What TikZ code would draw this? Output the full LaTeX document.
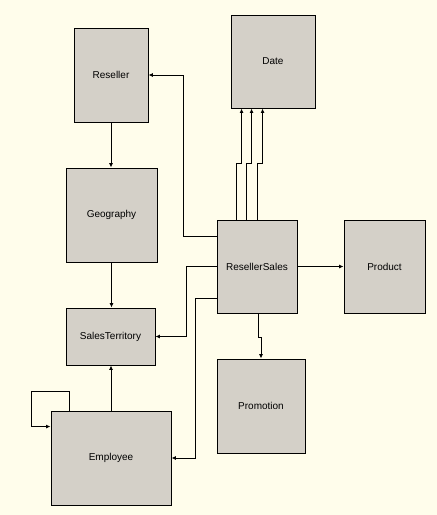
\documentclass[tikz,border=0pt]{standalone}
\usepackage{fontspec}
\setmainfont{Liberation Sans}
\usetikzlibrary{arrows.meta}
\definecolor{paper}{HTML}{FFFDEB}
\definecolor{boxgray}{HTML}{D4D0C8}
\tikzset{
	tbl/.style={draw=black, fill=boxgray, line width=0.9pt, inner sep=0pt, font=\fontsize{10}{12}\selectfont},
	fk/.style={draw=black, line width=0.9pt, -{Latex[length=4.5pt,width=4pt]}}
}
\begin{document}
\begin{tikzpicture}[x=1pt, y=-1pt]
		\fill[paper] (0,0) rectangle (437,515);
		\useasboundingbox (0,0) rectangle (437,515);
		\node[tbl, minimum width=74pt, minimum height=94pt] (reseller) at (111,75) {Reseller};
		\node[tbl, minimum width=84pt, minimum height=93pt] (date) at (273,61.5) {Date};
		\node[tbl, minimum width=91pt, minimum height=94pt] (geo) at (111.5,215) {Geography};
		\node[tbl, minimum width=80pt, minimum height=93pt] (rs) at (257,266.5) {ResellerSales};
		\node[tbl, minimum width=81pt, minimum height=93pt] (product) at (384.5,266.5) {Product};
		\node[tbl, minimum width=89pt, minimum height=57pt] (st) at (110.5,336.5) {SalesTerritory};
		\node[tbl, minimum width=88pt, minimum height=94pt] (promo) at (261,406) {Promotion};
		\node[tbl, minimum width=120pt, minimum height=94pt] (emp) at (111,458) {Employee};
		% lookups out of the fact table
		\draw[fk] ([yshift=-17pt]rs.north west) -| ([xshift=35pt]reseller.east) -- (reseller.east);
		\foreach \a/\b in {20/11, 30/21, 41/32}
			\draw[fk] ([xshift=\a pt]rs.north west) -- ++(0,-56) -| ([xshift=\b pt]date.south west);
		\draw[fk] (rs.east) -- (product.west);
		\draw[fk] (rs.west) -- ++(-30,0) |- (st.east);
		\draw[fk] ([yshift=-31.5pt]rs.west) -- ++(-21,0) |- (emp.east);
		\draw[fk] ([xshift=1pt]rs.south) -- ++(0,24) -| (promo.north);
		% dimension chain
		\draw[fk] (reseller.south) -- (reseller.south |- geo.north);
		\draw[fk] (geo.south) -- (geo.south |- st.north);
		\draw[fk] (emp.north) -- (emp.north |- st.south);
		\draw[fk] ([xshift=19pt]emp.north west) |- ([xshift=-19pt,yshift=19pt]emp.north west) |- ([yshift=-16pt]emp.north west);
	\end{tikzpicture}
\end{document}
